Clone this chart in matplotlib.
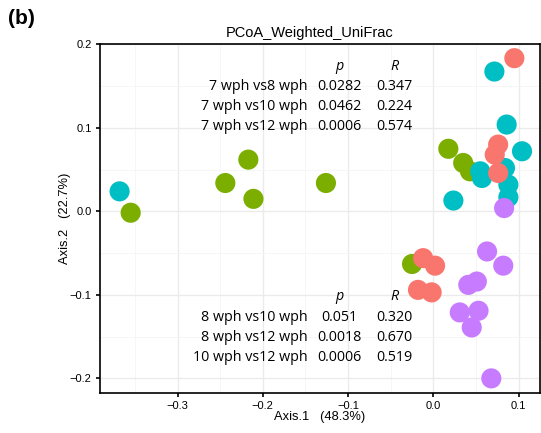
import numpy as np
import matplotlib.pyplot as plt

plt.rcParams["font.family"] = ["Liberation Sans", "DejaVu Sans"]

# --- données ---
g7_x = [-0.355, -0.244, -0.217, -0.211, -0.126, 0.0176, 0.035, 0.043, -0.025]
g7_y = [-0.0016, 0.034, 0.062, 0.015, 0.034, 0.075, 0.058, 0.048, -0.063]

g8_x = [-0.368, 0.0716, 0.086, 0.104, 0.055, 0.057, 0.084, 0.088, 0.088, 0.0235]
g8_y = [0.024, 0.1675, 0.104, 0.072, 0.048, 0.040, 0.052, 0.032, 0.017, 0.013]

g10_x = [0.095, 0.076, 0.072, 0.076, -0.012, 0.002, -0.018, -0.002]
g10_y = [0.1835, 0.080, 0.068, 0.046, -0.056, -0.065, -0.094, -0.097]

g12_x = [0.063, 0.082, 0.041, 0.051, 0.031, 0.053, 0.045, 0.068, 0.083]
g12_y = [-0.048, -0.065, -0.088, -0.084, -0.121, -0.119, -0.139, -0.200, 0.004]

pairs_top = ["7 wph vs8 wph", "7 wph vs10 wph", "7 wph vs12 wph"]
p_top = ["0.0282", "0.0462", "0.0006"]
r_top = ["0.347", "0.224", "0.574"]

pairs_bot = ["8 wph vs10 wph", "8 wph vs12 wph", "10 wph vs12 wph"]
p_bot = ["0.051", "0.0018", "0.0006"]
r_bot = ["0.320", "0.670", "0.519"]

# --- figure ---
fig = plt.figure(figsize=(5.41, 4.33), dpi=100)
ax = fig.add_axes([0.1848, 0.0924, 0.8132, 0.806])

ax.set_xlim(-0.391, 0.125)
ax.set_ylim(-0.2175, 0.2005)

ax.set_xticks([-0.3, -0.2, -0.1, 0.0, 0.1])
ax.set_xticklabels(["\u22120.3", "\u22120.2", "\u22120.1", "0.0", "0.1"])
ax.set_yticks([-0.2, -0.1, 0.0, 0.1, 0.2])
ax.set_yticklabels(["\u22120.2", "\u22120.1", "0.0", "0.1", "0.2"])
ax.set_xticks([-0.35, -0.25, -0.15, -0.05, 0.05], minor=True)
ax.set_yticks([-0.15, -0.05, 0.05, 0.15], minor=True)
ax.grid(True, which="major", color="#EBEBEB", linewidth=1.0, zorder=0)
ax.grid(True, which="minor", color="#F5F5F5", linewidth=0.6, zorder=0)
ax.set_axisbelow(True)
ax.tick_params(which="major", direction="out", length=3, width=1.2, color="black",
               labelsize=8, pad=3)
ax.tick_params(which="minor", length=0)
for s in ax.spines.values():
    s.set_linewidth(1.2)
    s.set_color("black")

for xs, ys, col in [(g7_x, g7_y, "#7CAE00"), (g8_x, g8_y, "#00BFC4"),
                    (g10_x, g10_y, "#F8766D"), (g12_x, g12_y, "#C77CFF")]:
    ax.scatter(xs, ys, s=210, color=col, edgecolors="none", zorder=3)

# --- tableaux PERMANOVA ---
def table(y0, pairs, pv, rv):
    fs = 10.3
    fam = ["Open Sans", "DejaVu Sans"]
    ax.text(-0.110, y0, "p", style="italic", ha="center", va="center", fontsize=fs, family=fam)
    ax.text(-0.046, y0, "R", style="italic", ha="center", va="center", fontsize=fs, family=fam)
    for i, (lab, p, r) in enumerate(zip(pairs, pv, rv)):
        yy = y0 - (i + 1) * 0.024
        ax.text(-0.148, yy, lab, ha="right", va="center", fontsize=fs, family=fam)
        ax.text(-0.110, yy, p, ha="center", va="center", fontsize=fs, family=fam)
        ax.text(-0.046, yy, r, ha="center", va="center", fontsize=fs, family=fam)

table(0.174, pairs_top, p_top, r_top)
table(-0.1025, pairs_bot, p_bot, r_bot)

ax.set_title("PCoA_Weighted_UniFrac", fontsize=10.5, pad=5, x=0.477)
ax.set_xlabel("Axis.1   (48.3%)", fontsize=9.3, labelpad=0)
ax.set_ylabel("Axis.2   (22.7%)", fontsize=9.3, labelpad=-1)
fig.text(0.015, 0.958, "(b)", fontsize=15, fontweight="bold", ha="left", va="center")

fig.savefig("out.png", dpi=100)
